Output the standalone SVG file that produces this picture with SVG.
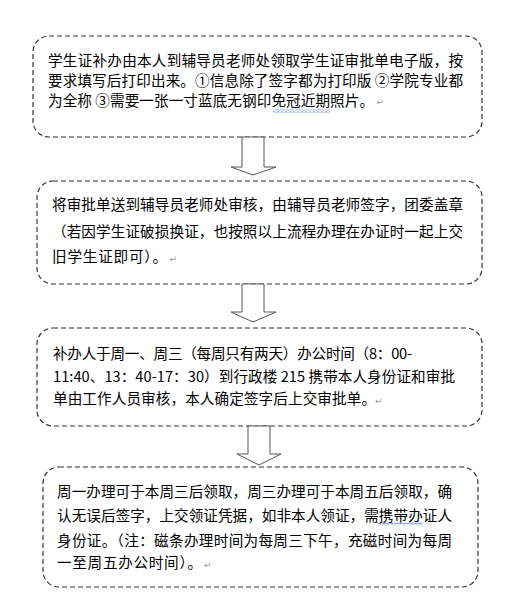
<svg xmlns="http://www.w3.org/2000/svg" width="529" height="607" viewBox="0 0 529 607">
<style>
.box{fill:#fff;stroke:#333;stroke-width:1.2;stroke-dasharray:5 3}
.arrow{fill:#fff;stroke:#555;stroke-width:1}
.t{font-family:"Noto Sans CJK SC","Microsoft YaHei",sans-serif;font-size:14.6px;fill:#000}
.pm{font-family:"DejaVu Sans",sans-serif;font-size:9px;fill:#999}
</style>
<defs>
<pattern id="wavy" patternUnits="userSpaceOnUse" x="0" y="0" width="4" height="3">
<path d="M0,2.2 L2,0.6 L4,2.2" fill="none" stroke="#3050e0" stroke-width="0.8"/>
</pattern>
</defs>
<rect width="529" height="607" fill="#fff"/>
<g id="node1">
<rect class="box" x="33" y="36" width="449" height="101" rx="16"/>
<text class="t" x="48" y="65.5" textLength="415" lengthAdjust="spacing">学生证补办由本人到辅导员老师处领取学生证审批单电子版，按</text>
<text class="t" x="48" y="85.5" textLength="415" lengthAdjust="spacing">要求填写后打印出来。①信息除了签字都为打印版 ②学院专业都</text>
<text class="t" x="48" y="105.5" textLength="326" lengthAdjust="spacing">为全称 ③需要一张一寸蓝底无钢印免冠近期照片。</text>
<text class="pm" x="376.5" y="105">↵</text>
<rect x="273" y="109.5" width="57" height="3" fill="url(#wavy)"/>
</g>
<g id="node2">
<rect class="box" x="37" y="181" width="445" height="103" rx="16"/>
<text class="t" x="52" y="209.5" textLength="411" lengthAdjust="spacing">将审批单送到辅导员老师处审核，由辅导员老师签字，团委盖章</text>
<text class="t" x="52" y="236.5" textLength="411" lengthAdjust="spacing">（若因学生证破损换证，也按照以上流程办理在办证时一起上交</text>
<text class="t" x="52" y="262" textLength="115" lengthAdjust="spacing">旧学生证即可）。</text>
<text class="pm" x="169.5" y="262">↵</text>
</g>
<g id="node3">
<rect class="box" x="37" y="328" width="445" height="98" rx="16"/>
<text class="t" x="53" y="359" textLength="359" lengthAdjust="spacing">补办人于周一、周三（每周只有两天）办公时间（8：00-</text>
<text class="t" x="53" y="381.5" textLength="402" lengthAdjust="spacing">11:40、13：40-17：30）到行政楼 215 携带本人身份证和审批</text>
<text class="t" x="53" y="404" textLength="323" lengthAdjust="spacing">单由工作人员审核，本人确定签字后上交审批单。</text>
<text class="pm" x="375" y="404">↵</text>
</g>
<g id="node4">
<rect class="box" x="43" y="467" width="435" height="120" rx="16"/>
<text class="t" x="57" y="497" textLength="395" lengthAdjust="spacing">周一办理可于本周三后领取，周三办理可于本周五后领取，确</text>
<text class="t" x="57" y="521" textLength="395" lengthAdjust="spacing">认无误后签字，上交领证凭据，如非本人领证，需携带办证人</text>
<text class="t" x="57" y="545.5" textLength="395" lengthAdjust="spacing">身份证。（注：磁条办理时间为每周三下午，充磁时间为每周</text>
<text class="t" x="57" y="568" textLength="145" lengthAdjust="spacing">一至周五办公时间）。</text>
<text class="pm" x="204" y="568">↵</text>
<rect x="378" y="522.5" width="45" height="3" fill="url(#wavy)"/>
</g>
<g id="connectors">
<polygon class="arrow" points="242,137 264,137 264,167 276,167 253,175 231,167 242,167"/>
<polygon class="arrow" points="242,284 264,284 264,312 276,312 253,322 231,312 242,312"/>
<polygon class="arrow" points="248,426 270,426 270,454 281,454 259,465 237,454 248,454"/>
</g>
</svg>
